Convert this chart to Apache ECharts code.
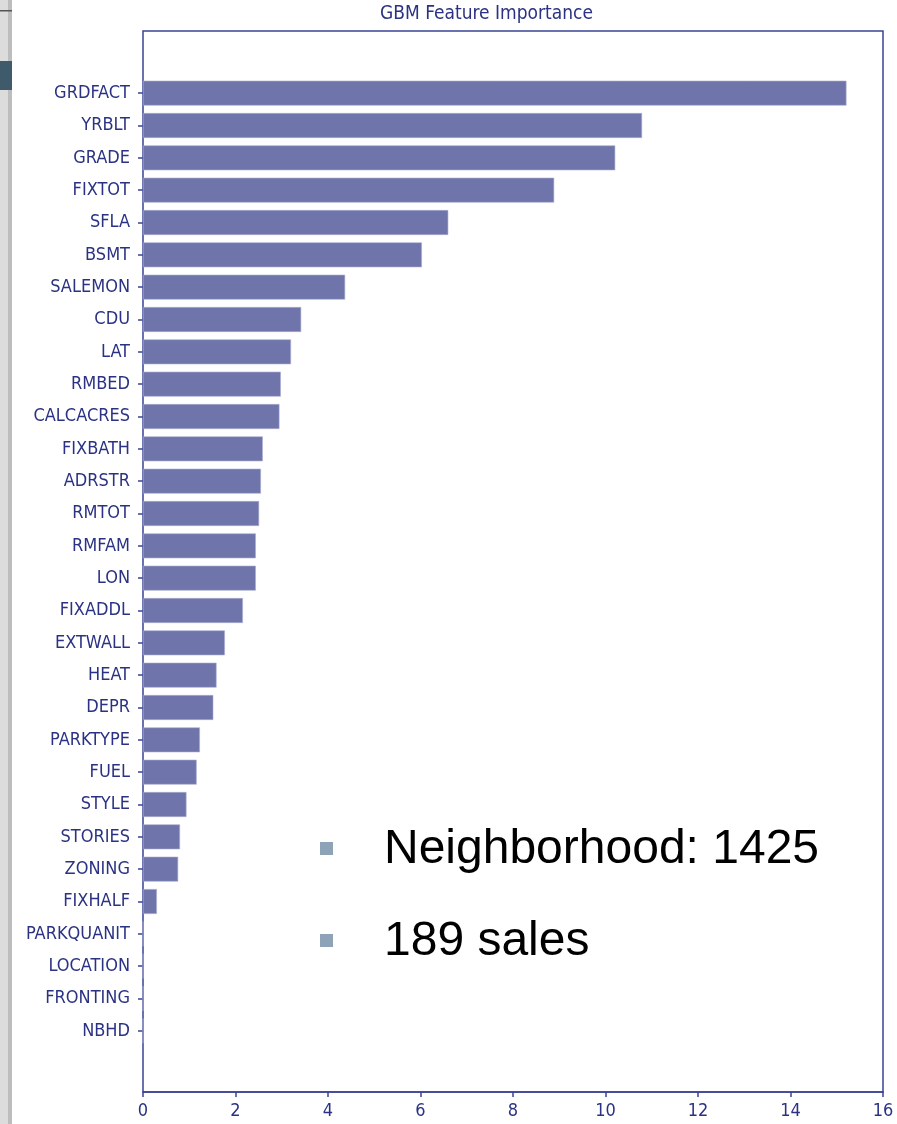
<!DOCTYPE html>
<html>
<head>
<meta charset="utf-8">
<script src="https://cdn.jsdelivr.net/npm/echarts@6/dist/echarts.min.js"></script>
<style>
  html, body { margin: 0; padding: 0; background: #fff; }
  #main { width: 897px; height: 1124px; }
</style>
</head>
<body>
<div id="main"></div>
<script>
// feature names, top to bottom
var features = ['GRDFACT', 'YRBLT', 'GRADE', 'FIXTOT', 'SFLA', 'BSMT', 'SALEMON', 'CDU', 'LAT', 'RMBED',
  'CALCACRES', 'FIXBATH', 'ADRSTR', 'RMTOT', 'RMFAM', 'LON', 'FIXADDL', 'EXTWALL', 'HEAT', 'DEPR',
  'PARKTYPE', 'FUEL', 'STYLE', 'STORIES', 'ZONING', 'FIXHALF', 'PARKQUANIT', 'LOCATION', 'FRONTING', 'NBHD']
var importance = [15.21, 10.79, 10.21, 8.89, 6.60, 6.03, 4.37, 3.42, 3.20, 2.98,
  2.95, 2.59, 2.55, 2.51, 2.44, 2.44, 2.16, 1.77, 1.59, 1.52,
  1.23, 1.16, 0.94, 0.80, 0.76, 0.30, 0, 0, 0, 0]
var xTicks = [0, 2, 4, 6, 8, 10, 12, 14, 16]
var notes = ['Neighborhood: 1425', '189 sales']

var axisColor = '#3a4395'
var textColor = '#2b3283'
var barColor = '#6f75aa'
var fontCond = '"DejaVu Sans Condensed", "Liberation Sans Narrow", "DejaVu Sans", sans-serif'

var chart = echarts.init(document.getElementById('main'))

var option = {
  animation: false,
  backgroundColor: '#fff',
  title: {
    text: 'GBM Feature Importance',
    left: 375,
    top: 0,
    textStyle: { fontFamily: fontCond, fontSize: 19, fontWeight: 'normal', color: textColor }
  },
  grid: [
    // frame
    { left: 143, right: 14, top: 31, bottom: 32, show: true, borderColor: axisColor, borderWidth: 1.5, backgroundColor: 'transparent' },
    // bars
    { left: 143, right: 14, top: 77, bottom: 77 }
  ],
  xAxis: [
    {
      gridIndex: 0,
      type: 'value',
      min: xTicks[0],
      max: xTicks[xTicks.length - 1],
      interval: 2,
      axisLine: { show: true, lineStyle: { color: axisColor, width: 1.5 } },
      axisTick: { show: true, length: 5, lineStyle: { color: axisColor, width: 1.5 } },
      axisLabel: { margin: 10, fontFamily: fontCond, fontSize: 18, color: textColor },
      splitLine: { show: false }
    },
    {
      gridIndex: 1,
      type: 'value',
      min: xTicks[0],
      max: xTicks[xTicks.length - 1],
      show: false
    }
  ],
  yAxis: [
    { gridIndex: 0, type: 'value', show: false },
    {
      gridIndex: 1,
      type: 'category',
      inverse: true,
      data: features,
      axisLine: { show: false },
      axisTick: { show: true, alignWithLabel: true, length: 5, lineStyle: { color: axisColor, width: 1.5 } },
      axisLabel: { margin: 13, fontFamily: fontCond, fontSize: 18, color: textColor }
    }
  ],
  series: [{
    type: 'bar',
    xAxisIndex: 1,
    yAxisIndex: 1,
    data: importance,
    barCategoryGap: '23%',
    itemStyle: { color: barColor, borderColor: '#a9acd0', borderWidth: 0.6 }
  }],
  graphic: [
    // screenshot edge on the left
    { type: 'rect', left: 0, top: 0, shape: { width: 8, height: 1124 }, style: { fill: '#dcdcdc' }, silent: true },
    { type: 'rect', left: 8, top: 0, shape: { width: 4, height: 1124 }, style: { fill: '#bdbdbd' }, silent: true },
    { type: 'rect', left: 0, top: 10, shape: { width: 12, height: 1.5 }, style: { fill: '#555' }, silent: true },
    { type: 'rect', left: 0, top: 61, shape: { width: 12, height: 29 }, style: { fill: '#3f5b6b' }, silent: true },
    // bullet notes
    { type: 'rect', left: 320, top: 842, shape: { width: 13, height: 13 }, style: { fill: '#8fa3b8' }, silent: true },
    { type: 'text', left: 384, top: 826, style: { text: notes[0], font: '48px "Liberation Sans", Arial, sans-serif', fill: '#000' }, silent: true },
    { type: 'rect', left: 320, top: 934, shape: { width: 13, height: 13 }, style: { fill: '#8fa3b8' }, silent: true },
    { type: 'text', left: 384, top: 918, style: { text: notes[1], font: '48px "Liberation Sans", Arial, sans-serif', fill: '#000' }, silent: true }
  ]
}

chart.setOption(option)
</script>
</body>
</html>
